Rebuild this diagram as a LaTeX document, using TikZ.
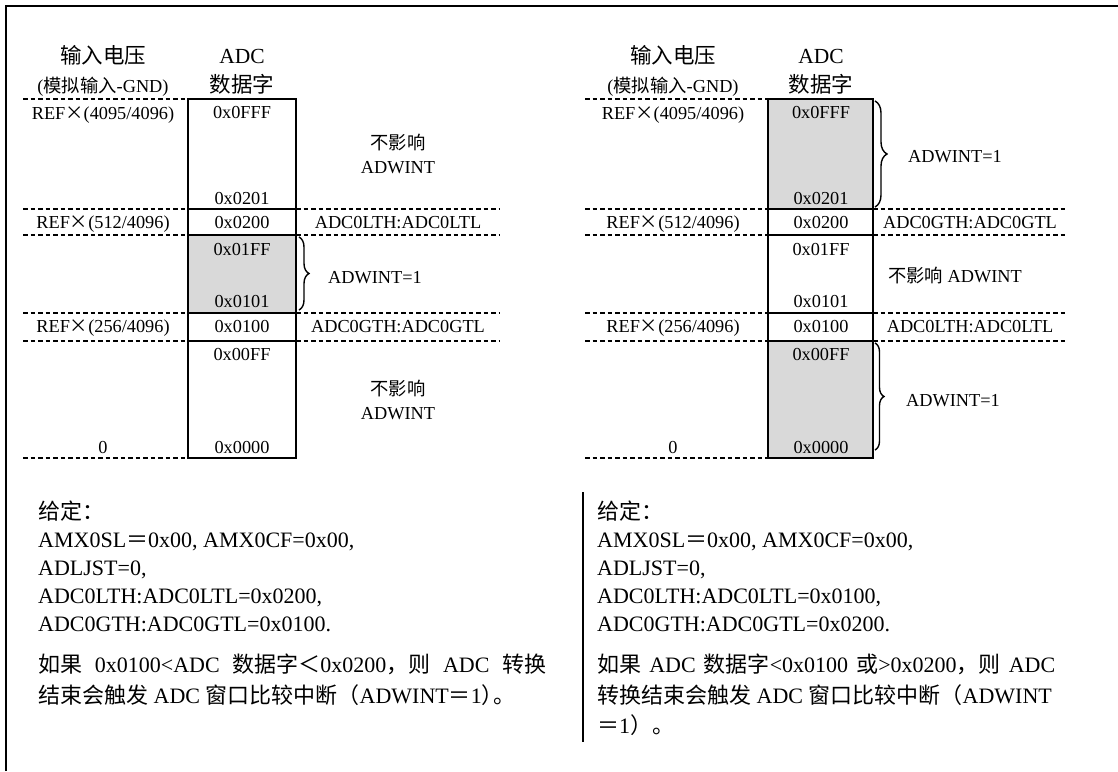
\documentclass[tikz,border=0pt]{standalone}
\usepackage{fontspec}
\setmainfont{Liberation Serif}
\newfontfamily\zh{Noto Sans CJK SC}
\usetikzlibrary{decorations.pathreplacing}
\newcommand{\tms}{\makebox[1em]{\zh ×}}
\tikzset{
  frame/.style={line width=2.8pt},
  hline/.style={line width=2.3pt, dash pattern=on 4.5pt off 3pt},
  cellbox/.style={line width=2.3pt},
  hot/.style={fill=black!15},
  lbl/.style={anchor=base, inner sep=0pt, font=\fontsize{18.3}{20}\selectfont},
  head/.style={anchor=base, inner sep=0pt, font=\fontsize{21.5}{24}\selectfont},
  subhead/.style={anchor=base, inner sep=0pt, font=\fontsize{18.3}{20}\selectfont},
  body/.style={anchor=base west, inner sep=0pt, font=\fontsize{22}{24}\selectfont},
  brc/.style={decorate, decoration={brace, amplitude=#1}, line width=1.4pt},
}
\begin{document}
\begin{tikzpicture}[x=1pt,y=-1pt]
\useasboundingbox (0,0) rectangle (1118,771);
% frame
\draw[frame] (6,771) -- (6,6) -- (1118,6);

% ===== LEFT DIAGRAM =====
\node[head] (lh1) at (103,63) {\zh 输入电压};
\node[subhead] (lh2) at (103,92) {({\zh 模拟输入}-GND)};
\node[head] (lh3) at (242,63) {ADC};
\node[head] (lh4) at (242,92) {\zh 数据字};
% cells
\draw[cellbox] (188,99) rectangle (296,209);
\draw[cellbox] (188,209) rectangle (296,235);
\draw[cellbox,hot] (188,235) rectangle (296,313);
\draw[cellbox] (188,313) rectangle (296,341);
\draw[cellbox] (188,341) rectangle (296,458);
% dashed lines
\draw[hline] (23,99) -- (188,99);
\draw[hline] (23,209) -- (188,209);  \draw[hline] (296,209) -- (500,209);
\draw[hline] (23,235) -- (188,235);  \draw[hline] (296,235) -- (500,235);
\draw[hline] (23,313) -- (188,313);  \draw[hline] (296,313) -- (500,313);
\draw[hline] (23,341) -- (188,341);  \draw[hline] (296,341) -- (500,341);
\draw[hline] (23,458) -- (188,458);
% labels
\node[lbl] (lr1) at (103,119) {REF\tms(4095/4096)};
\node[lbl] (lr2) at (103,228) {REF\tms(512/4096)};
\node[lbl] (lr3) at (103,332) {REF\tms(256/4096)};
\node[lbl] (lr4) at (103,453) {0};
\node[lbl] (lc1) at (242,118) {0x0FFF};
\node[lbl] (lc2) at (242,204) {0x0201};
\node[lbl] (lc3) at (242,228) {0x0200};
\node[lbl] (lc4) at (242,255) {0x01FF};
\node[lbl] (lc5) at (242,307) {0x0101};
\node[lbl] (lc6) at (242,332) {0x0100};
\node[lbl] (lc7) at (242,360) {0x00FF};
\node[lbl] (lc8) at (242,453) {0x0000};
\node[lbl] (ls1) at (398,149) {\zh 不影响};
\node[lbl] (ls2) at (398,173) {ADWINT};
\node[lbl] (ls3) at (398,228) {ADC0LTH:ADC0LTL};
\node[lbl] (ls4) at (375,283) {ADWINT=1};
\node[lbl] (ls5) at (398,332) {ADC0GTH:ADC0GTL};
\node[lbl] (ls6) at (398,395) {\zh 不影响};
\node[lbl] (ls7) at (398,419) {ADWINT};
\coordinate (lb1) at (299,237);
\coordinate (lb2) at (299,310);
\draw[brc=10pt] (lb1) -- (lb2);

% ===== RIGHT DIAGRAM =====
\node[head] (rh1) at (673,63) {\zh 输入电压};
\node[subhead] (rh2) at (673,92) {({\zh 模拟输入}-GND)};
\node[head] (rh3) at (821,63) {ADC};
\node[head] (rh4) at (821,92) {\zh 数据字};
\draw[cellbox,hot] (768,99) rectangle (873,209);
\draw[cellbox] (768,209) rectangle (873,235);
\draw[cellbox] (768,235) rectangle (873,313);
\draw[cellbox] (768,313) rectangle (873,341);
\draw[cellbox,hot] (768,341) rectangle (873,458);
\draw[hline] (585,99) -- (768,99);
\draw[hline] (585,209) -- (768,209);  \draw[hline] (873,209) -- (1068,209);
\draw[hline] (585,235) -- (768,235);  \draw[hline] (873,235) -- (1068,235);
\draw[hline] (585,313) -- (768,313);  \draw[hline] (873,313) -- (1068,313);
\draw[hline] (585,341) -- (768,341);  \draw[hline] (873,341) -- (1068,341);
\draw[hline] (585,458) -- (768,458);
\node[lbl] (rr1) at (673,119) {REF\tms(4095/4096)};
\node[lbl] (rr2) at (673,228) {REF\tms(512/4096)};
\node[lbl] (rr3) at (673,332) {REF\tms(256/4096)};
\node[lbl] (rr4) at (673,453) {0};
\node[lbl] (rc1) at (821,118) {0x0FFF};
\node[lbl] (rc2) at (821,204) {0x0201};
\node[lbl] (rc3) at (821,228) {0x0200};
\node[lbl] (rc4) at (821,255) {0x01FF};
\node[lbl] (rc5) at (821,307) {0x0101};
\node[lbl] (rc6) at (821,332) {0x0100};
\node[lbl] (rc7) at (821,360) {0x00FF};
\node[lbl] (rc8) at (821,453) {0x0000};
\node[lbl] (rs1) at (955,162) {ADWINT=1};
\node[lbl] (rs2) at (970,228) {ADC0GTH:ADC0GTL};
\node[lbl] (rs3) at (955,282) {{\zh 不影响} ADWINT};
\node[lbl] (rs4) at (970,332) {ADC0LTH:ADC0LTL};
\node[lbl] (rs5) at (953,406) {ADWINT=1};
\coordinate (rb1) at (875,101);
\coordinate (rb2) at (875,207);
\coordinate (rb3) at (875,343);
\coordinate (rb4) at (875,450);
\draw[brc=12pt] (rb1) -- (rb2);
\draw[brc=9pt] (rb3) -- (rb4);

% ===== BOTTOM TEXT =====
\node[body] (lt1) at (38,519) {\zh 给定：};
\node[body] (lt2) at (38,547) {AMX0SL{\zh ＝}0x00, AMX0CF=0x00,};
\node[body] (lt3) at (38,575) {ADLJST=0,};
\node[body] (lt4) at (38,603) {ADC0LTH:ADC0LTL=0x0200,};
\node[body] (lt5) at (38,631) {ADC0GTH:ADC0GTL=0x0100.};
\node[body] (lt6) at (38,672) {\makebox[508pt][s]{{\zh 如果} 0x0100<ADC {\zh 数据字＜}0x0200{\zh ，则} ADC {\zh 转换}}};
\node[body] (lt7) at (38,703) {{\zh 结束会触发} ADC {\zh 窗口比较中断（}ADWINT{\zh ＝}1\makebox[0.55em][l]{\zh ）}\makebox[0.55em][l]{\zh 。}};

\coordinate (dv1) at (583,492);
\coordinate (dv2) at (583,742);
\draw[line width=2.3pt] (dv1) -- (dv2);

\node[body] (rt1) at (597,519) {\zh 给定：};
\node[body] (rt2) at (597,547) {AMX0SL{\zh ＝}0x00, AMX0CF=0x00,};
\node[body] (rt3) at (597,575) {ADLJST=0,};
\node[body] (rt4) at (597,603) {ADC0LTH:ADC0LTL=0x0100,};
\node[body] (rt5) at (597,631) {ADC0GTH:ADC0GTL=0x0200.};
\node[body] (rt6) at (597,672) {\makebox[458pt][s]{{\zh 如果} ADC {\zh 数据字}<0x0100 {\zh 或}>0x0200{\zh ，则} ADC}};
\node[body] (rt7) at (597,703) {{\zh 转换结束会触发} ADC {\zh 窗口比较中断（}ADWINT};
\node[body] (rt8) at (597,733) {{\zh ＝}1{\zh ）。}};
\end{tikzpicture}
\end{document}
